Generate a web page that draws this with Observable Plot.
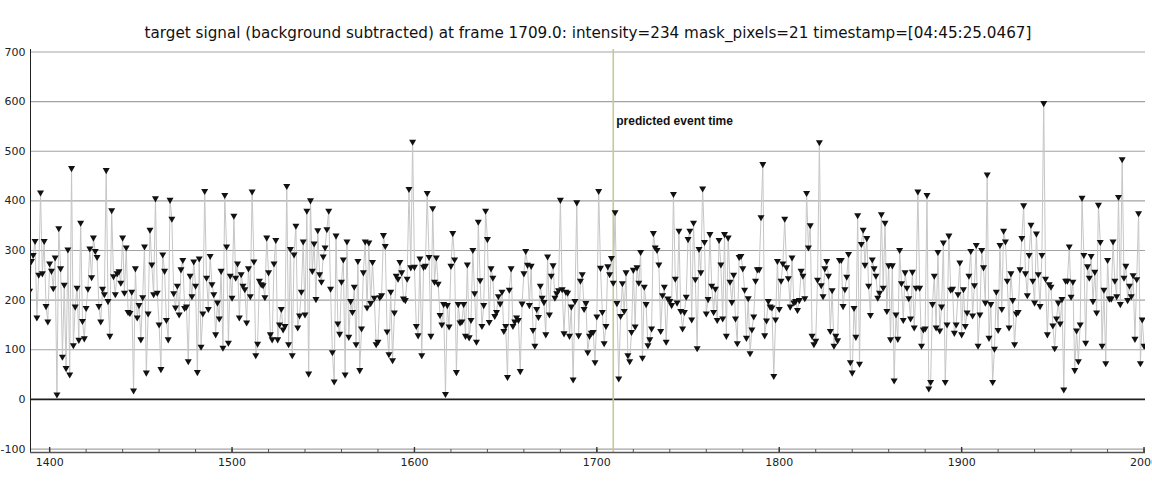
<!DOCTYPE html>
<html>
<head>
<meta charset="utf-8">
<script src="https://cdn.jsdelivr.net/npm/d3@7"></script>
<script src="https://cdn.jsdelivr.net/npm/@observablehq/plot@0.6"></script>
<style>
  html, body { margin: 0; padding: 0; background: #fff; }
  #chart { width: 1152px; height: 486px; }
</style>
</head>
<body>
<div id="chart"></div>
<script>
const titleText = "target signal (background subtracted) at frame 1709.0: intensity=234 mask_pixels=21 timestamp=[04:45:25.0467]";
const eventLabel = "predicted event time";
const eventFrame = 1709;
const firstFrame = 1389;
const xDomain = [1389.5, 2000.8];
const yDomain = [-107, 705];
const xTicks = [1400, 1500, 1600, 1700, 1800, 1900, 2000];
const xMinorTicks = [1400, 1420, 1440, 1460, 1480, 1500, 1520, 1540, 1560, 1580, 1600, 1620, 1640, 1660, 1680, 1700, 1720, 1740, 1760, 1780, 1800, 1820, 1840, 1860, 1880, 1900, 1920, 1940, 1960, 1980, 2000];
const yTicks = [-100, 0, 100, 200, 300, 400, 500, 600, 700];

// background-subtracted intensity, one value per frame from firstFrame
const intensity = [
  219, 279, 291, 319, 165, 251, 417, 254, 319, 188,
  157, 274, 259, 224, 286, 10, 345, 264, 86, 231,
  63, 302, 50, 466, 109, 187, 225, 120, 356, 158,
  123, 184, 223, 304, 246, 326, 299, 287, 188, 157,
  223, 212, 462, 198, 128, 381, 248, 212, 254, 258,
  235, 326, 215, 306, 176, 174, 217, 18, 264, 165,
  190, 121, 206, 308, 54, 173, 342, 272, 212, 405,
  215, 151,
  61, 292, 259, 160, 121, 402, 364, 214, 185, 229,
  171, 262, 281, 184, 187, 77, 249, 208, 278, 229,
  55, 284, 106, 173, 420, 245, 182, 289, 232, 212,
  131, 195, 163, 259, 104, 412, 308, 114, 249, 205,
  370, 245, 274, 165, 252, 229, 222, 155, 264, 208,
  419, 278, 89, 112, 239, 232, 230, 206, 326, 256,
  131, 121, 274, 321, 121, 151, 182, 141, 148,
  430, 111, 303, 89, 292, 350, 145, 169, 217, 318,
  171, 380, 52, 401, 259, 314, 202, 341, 252, 237,
  288, 306, 343, 380, 223, 95, 36, 330, 153, 132,
  237, 282, 50, 318, 126, 198, 176, 227, 111, 279,
  59, 143, 256, 318, 185, 316, 194, 277, 205, 111,
  116, 206, 210, 331, 309, 137, 91, 217, 79, 175,
  249, 243, 277, 256, 203, 200, 243, 424,
  266, 519, 267, 148, 129, 284, 89, 267, 269, 416,
  287, 128, 385, 237, 286, 233, 170, 151, 192, 11,
  190, 147, 269, 335, 282, 55, 192, 155, 157, 192,
  128, 272, 125, 160, 301, 214, 116, 358, 240, 148,
  190, 380, 323, 156, 264, 245, 168, 176, 208, 193,
  217, 138, 148, 45, 221, 264, 148, 157, 165, 160,
  57, 193, 254, 299, 271, 190, 269, 140, 108,
  182, 166, 229, 205, 196, 131, 288, 171, 249, 270,
  205, 214, 220, 402, 222, 133, 217, 215, 128, 187,
  40, 198, 397, 129, 239, 252, 182, 194, 95, 128,
  134, 136, 75, 167, 420, 265, 176, 113, 148, 268,
  252, 285, 235, 377, 194, 42, 168, 234, 178, 256,
  89, 77, 136, 261, 147, 266, 235, 297, 84, 227,
  192, 109, 121, 143, 335, 306, 301, 272, 138,
  210, 227, 116, 203, 198, 190, 414, 243, 195, 340,
  178, 143, 176, 207, 323, 340, 161, 356, 242, 103,
  303, 256, 425, 317, 173, 202, 333, 229, 176, 223,
  160, 321, 272, 163, 333, 128, 326, 237, 196, 251,
  163, 113, 287, 289, 264, 221, 124, 204, 93, 141,
  167, 239, 262, 262, 367, 474, 129, 159, 198, 187,
  185, 47, 161, 279, 182, 239, 274, 364, 266,
  244, 187, 286, 195, 198, 180, 200, 259, 249, 204,
  416, 306, 351, 128, 111, 118, 241, 518, 230, 208,
  264, 279, 249, 138, 220, 108, 128, 119, 281, 281,
  188, 222, 247, 293, 75, 54, 184, 126, 371, 72,
  313, 342, 271, 325, 229, 170, 282, 264, 249, 205,
  215, 373, 225, 356, 178, 270, 121, 270, 38, 171,
  122, 301, 234, 160, 256, 225, 204, 163, 257,
  145, 225, 419, 225, 108, 141, 143, 412, 22, 35,
  192, 249, 145, 297, 139, 187, 316, 35, 151, 330,
  221, 223, 134, 151, 212, 276, 131, 222, 148, 175,
  249, 299, 169, 230, 311, 108, 171, 301, 266, 195,
  453, 124, 192, 35, 102, 217, 140, 311, 182, 340,
  318, 239, 145, 254, 200, 111, 173, 176, 262, 325,
  391, 254, 210, 291, 352, 239, 195, 334, 252, 188,
  291, 597, 243, 131, 232, 227, 149, 103, 163, 195,
  153, 202, 20, 239, 239, 308, 207, 237, 59, 139,
  77, 151, 406, 291, 114, 268, 245, 289, 198, 257,
  175, 392, 317, 108, 221, 73, 281, 203, 203, 318,
  239, 208, 408, 192, 484, 245, 269, 200, 229, 208,
  250, 122, 242, 375, 73, 161, 108
];

const data = intensity.map((v, i) => ({frame: firstFrame + i, value: v}));

const W = 1152, H = 486;
const mTop = 49, mBottom = 34, mLeft = 30, mRight = 7;
const frameH = H - mTop - mBottom;

const chart = Plot.plot({
  width: W,
  height: H,
  marginTop: mTop,
  marginBottom: mBottom,
  marginLeft: mLeft,
  marginRight: mRight,
  style: {fontFamily: "'DejaVu Sans', sans-serif", background: "#fff", color: "#111", overflow: "visible"},
  x: {domain: xDomain, label: null},
  y: {domain: yDomain, label: null},
  marks: [
    Plot.ruleY(yTicks.filter(d => d !== 0), {stroke: "#a3a3a3", strokeWidth: 1.2}),
    Plot.ruleY([0], {stroke: "#1e1e1e", strokeWidth: 1.6}),
    Plot.ruleX([eventFrame], {stroke: "#c8c896", strokeWidth: 1.6}),
    Plot.line(data, {x: "frame", y: "value", stroke: "#c6c6c6", strokeWidth: 1, clip: true}),
    Plot.dot(data, {x: "frame", y: "value", symbol: "triangle", r: 2.6, rotate: 180, fill: "#111", stroke: "none", clip: true}),
    Plot.text([eventLabel], {x: eventFrame, frameAnchor: "top", dy: 67, dx: 3, textAnchor: "start", fontWeight: "bold", fontSize: 12, fontFamily: "'Liberation Sans', sans-serif", fill: "#111"}),
    Plot.ruleX([xDomain[0]], {stroke: "#222", strokeWidth: 1}),
    Plot.ruleY([yDomain[0]], {stroke: "#555", strokeWidth: 1.6}),
    Plot.ruleX(xMinorTicks, {insetTop: frameH - 3, stroke: "#555", strokeWidth: 1}),
    Plot.ruleX(xTicks, {insetTop: frameH - 5, stroke: "#333", strokeWidth: 1.4}),
    Plot.axisX(xTicks, {tickSize: 0, tickPadding: 6, fontSize: 11, tickFormat: d => String(d), fill: "#222", label: null}),
    Plot.axisY(yTicks, {tickSize: 0, tickPadding: 5, fontSize: 11, tickFormat: d => String(d), fill: "#222", label: null}),
    Plot.text([titleText], {frameAnchor: "top", dy: -22, fontSize: 15.2, fontFamily: "'DejaVu Sans', sans-serif", fill: "#111"})
  ]
});

document.getElementById("chart").appendChild(chart);
</script>
</body>
</html>
